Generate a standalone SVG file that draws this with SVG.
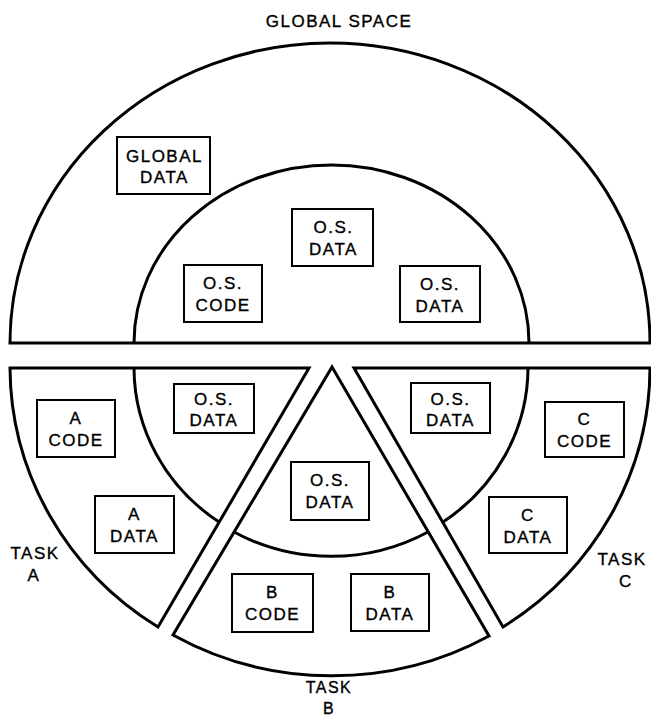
<svg xmlns="http://www.w3.org/2000/svg" width="651" height="718" viewBox="0 0 651 718">
<style>
.region{fill:#fff;stroke:#000;stroke-width:3;stroke-linejoin:miter}
.arc{fill:none;stroke:#000;stroke-width:3}
.box{fill:#fff;stroke:#000;stroke-width:2}
text{font-family:"Liberation Sans",Arial,sans-serif;font-size:17px;letter-spacing:1.5px;fill:#000;stroke:#000;stroke-width:0.35;text-anchor:middle}
.sm{font-size:16px}
</style>
<rect width="651" height="718" fill="#fff"/>
<g id="global-space">
<path class="region" d="M10,343 A320,300 0 0 1 650,343 Z"/>
<path class="arc" d="M134,343 A197.5,178 0 0 1 529,343"/>
</g>
<g id="task-a-region">
<path class="region" d="M10,368 H309 L158,627 A320,309 0 0 1 10,368 Z"/>
<path class="arc" d="M134,368 A197,188 0 0 0 219,522"/>
</g>
<g id="task-b-region">
<path class="region" d="M332,367 L489,636 A320,309 0 0 1 173,635 Z"/>
<path class="arc" d="M234,532 A197,188 0 0 0 428,532"/>
</g>
<g id="task-c-region">
<path class="region" d="M354,368 H650 A320,309 0 0 1 503,627 Z"/>
<path class="arc" d="M528,368 A197,188 0 0 1 443,522"/>
</g>
<g id="connectors"/>
<g id="global-data"><rect class="box" x="117" y="137" width="93" height="57"/><text x="164.5" y="162">GLOBAL</text><text x="164.5" y="183">DATA</text></g>
<g id="os-data-top"><rect class="box" x="292" y="209" width="81" height="57"/><text x="333.5" y="233">O.S.</text><text x="333.5" y="255">DATA</text></g>
<g id="os-code"><rect class="box" x="184" y="265" width="78" height="57"/><text x="223" y="289">O.S.</text><text x="223" y="311">CODE</text></g>
<g id="os-data-right"><rect class="box" x="400" y="266" width="80" height="56"/><text x="440" y="290">O.S.</text><text x="440" y="312">DATA</text></g>
<g id="a-code"><rect class="box" x="37" y="400" width="78" height="57"/><text x="76" y="424">A</text><text x="76" y="446">CODE</text></g>
<g id="a-data"><rect class="box" x="95" y="496" width="79" height="57"/><text x="134.5" y="520">A</text><text x="134.5" y="542">DATA</text></g>
<g id="os-data-a"><rect class="box" x="174" y="384" width="80" height="49"/><text x="214" y="405">O.S.</text><text x="214" y="426">DATA</text></g>
<g id="os-data-b"><rect class="box" x="291" y="462" width="78" height="58"/><text x="330" y="486">O.S.</text><text x="330" y="508">DATA</text></g>
<g id="b-code"><rect class="box" x="232" y="574" width="81" height="58"/><text x="272.5" y="598">B</text><text x="272.5" y="620">CODE</text></g>
<g id="b-data"><rect class="box" x="351" y="574" width="78" height="57"/><text x="390" y="598">B</text><text x="390" y="620">DATA</text></g>
<g id="os-data-c"><rect class="box" x="411" y="383" width="79" height="50"/><text x="450.5" y="405">O.S.</text><text x="450.5" y="426">DATA</text></g>
<g id="c-code"><rect class="box" x="545" y="402" width="79" height="55"/><text x="584.5" y="425">C</text><text x="584.5" y="447">CODE</text></g>
<g id="c-data"><rect class="box" x="489" y="497" width="78" height="56"/><text x="528" y="521">C</text><text x="528" y="543">DATA</text></g>
<g id="label-global-space"><text x="339" y="27">GLOBAL SPACE</text></g>
<g id="label-task-a"><text x="35" y="559">TASK</text><text x="34" y="581">A</text></g>
<g id="label-task-b"><text class="sm" x="329" y="693">TASK</text><text class="sm" x="329" y="714">B</text></g>
<g id="label-task-c"><text x="622" y="565">TASK</text><text x="626" y="587">C</text></g>
</svg>
